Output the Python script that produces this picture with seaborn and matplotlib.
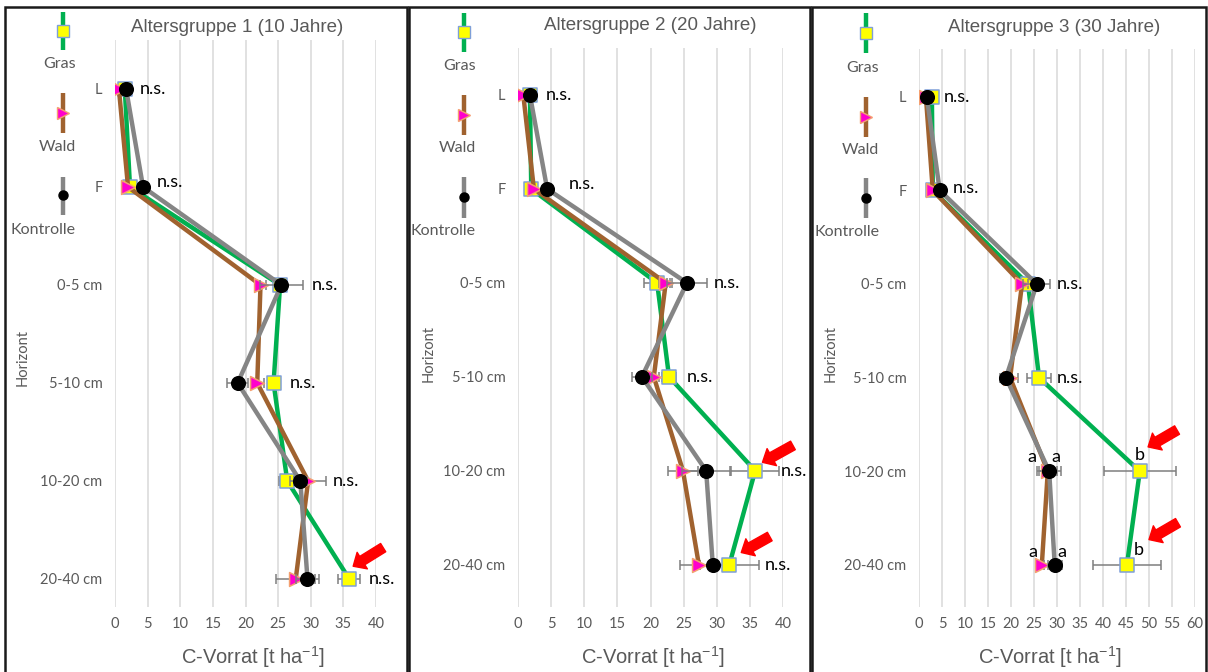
import numpy as np
import pandas as pd
import matplotlib
matplotlib.use("Agg")
import matplotlib.pyplot as plt
import seaborn as sns
from matplotlib.lines import Line2D
from matplotlib.patches import Rectangle

# ---------------- data ----------------
horizons = ["L", "F", "0-5 cm", "5-10 cm", "10-20 cm", "20-40 cm"]
treatments = ["Gras", "Wald", "Kontrolle"]
panel_titles = ["Altersgruppe 1 (10 Jahre)", "Altersgruppe 2 (20 Jahre)", "Altersgruppe 3 (30 Jahre)"]
x_ticks_12 = [0, 5, 10, 15, 20, 25, 30, 35, 40]
x_ticks_3 = [0, 5, 10, 15, 20, 25, 30, 35, 40, 45, 50, 55, 60]

# Altersgruppe 1 (10 Jahre)
gras_10 = [1.5, 2.3, 25.3, 24.3, 26.4, 35.9]
wald_10 = [0.6, 2.0, 22.3, 21.8, 29.6, 27.7]
kontrolle_10 = [1.7, 4.3, 25.5, 18.8, 28.4, 29.5]
gras_10_err = [0, 0, 0.8, 0.8, 1.2, 1.7]
wald_10_err = [0, 0, 0.8, 1.0, 2.8, 3.0]
kontrolle_10_err = [0, 0, 3.3, 1.6, 1.0, 1.8]

# Altersgruppe 2 (20 Jahre)
gras_20 = [1.8, 2.0, 21.0, 22.8, 35.8, 31.9]
wald_20 = [0.8, 2.4, 22.3, 20.5, 24.9, 27.3]
kontrolle_20 = [1.8, 4.4, 25.5, 18.7, 28.4, 29.4]
gras_20_err = [0, 0, 2.0, 1.0, 3.6, 4.5]
wald_20_err = [0, 0, 1.0, 0.8, 2.3, 2.8]
kontrolle_20_err = [0, 0, 3.0, 1.5, 3.6, 0.5]

# Altersgruppe 3 (30 Jahre)
gras_30 = [2.8, 3.0, 23.7, 26.1, 48.0, 45.2]
wald_30 = [1.5, 3.0, 22.4, 19.8, 28.0, 26.7]
kontrolle_30 = [1.7, 4.5, 25.6, 18.9, 28.3, 29.5]
gras_30_err = [0, 0, 0.5, 2.6, 7.8, 7.4]
wald_30_err = [0, 0, 1.3, 1.7, 2.0, 0.5]
kontrolle_30_err = [0, 0, 2.9, 1.2, 2.6, 1.5]

# significance labels: (x, horizon index, dy, text)
labels_10 = [(3.8, 0, 0, "n.s."), (6.4, 1, -0.05, "n.s."), (30.2, 2, 0, "n.s."),
             (26.8, 3, 0, "n.s."), (33.4, 4, 0, "n.s."), (38.9, 5, 0, "n.s.")]
labels_20 = [(4.2, 0, 0, "n.s."), (7.7, 1, -0.05, "n.s."), (29.6, 2, 0, "n.s."),
             (25.4, 3, 0, "n.s."), (39.7, 4, 0, "n.s."), (37.3, 5, 0, "n.s.")]
labels_30 = [(5.4, 0, 0, "n.s."), (7.4, 1, -0.03, "n.s."), (30.0, 2, 0, "n.s."),
             (30.0, 3, 0, "n.s.")]
letters_30 = [(24.6, 4, -0.15, "a"), (29.8, 4, -0.15, "a"), (48.0, 4, -0.17, "b"),
              (24.8, 5, -0.14, "a"), (31.1, 5, -0.14, "a"), (47.8, 5, -0.16, "b")]

# red arrows: (tail_x, tail_y, tip_x, tip_y) in data coordinates
arrows_10 = [(41.1, 4.68, 36.5, 4.87)]
arrows_20 = [(41.5, 3.73, 36.9, 3.91), (38.0, 4.70, 33.7, 4.87)]
arrows_30 = [(56.1, 3.56, 49.8, 3.74), (56.3, 4.55, 50.0, 4.73)]

# ---------------- style ----------------
sns.set_style("white")
plt.rcParams['font.family'] = ['Lato', 'DejaVu Sans']
plt.rcParams['mathtext.default'] = 'regular'

W, H = 1208, 672
fig = plt.figure(figsize=(W / 100, H / 100), dpi=100)
fig.patch.set_facecolor("white")

line_colors = {"Gras": "#00B050", "Wald": "#A0622F", "Kontrolle": "#858585"}
mk = {"Gras": "s", "Wald": ">", "Kontrolle": "o"}
mface = {"Gras": "#FFFF00", "Wald": "#FF00CC", "Kontrolle": "#000000"}
medge = {"Gras": "#7F9FD8", "Wald": "#F4A070", "Kontrolle": "#000000"}
msize = {"Gras": 105, "Wald": 100, "Kontrolle": 95}
GRAY_TXT = "#595959"

panels = [
    dict(vals=[gras_10, wald_10, kontrolle_10], errs=[gras_10_err, wald_10_err, kontrolle_10_err],
         box=(115, 376, 40, 607), ylim=(5.286, -0.5), xlim=(0, 40), ticks=x_ticks_12,
         labels=labels_10, letters=[], arrows=arrows_10,
         title_xy=(237, 27), xlabel_xy=(253, 657), ylabel_xy=(23, 357),
         leg_x=63, leg_lab_x=76, leg_y=[(12, 50, 31, 64), (93, 133, 113, 147), (177, 215, 195, 230)],
         border=(5, 407)),
    dict(vals=[gras_20, wald_20, kontrolle_20], errs=[gras_20_err, wald_20_err, kontrolle_20_err],
         box=(518, 783, 48, 607), ylim=(5.45, -0.5), xlim=(0, 40), ticks=x_ticks_12,
         labels=labels_20, letters=[], arrows=arrows_20,
         title_xy=(650, 25), xlabel_xy=(653, 657), ylabel_xy=(429, 353),
         leg_x=464, leg_lab_x=476, leg_y=[(13, 52, 32, 66), (95, 135, 115, 148), (177, 218, 197, 231)],
         border=(409, 810)),
    dict(vals=[gras_30, wald_30, kontrolle_30], errs=[gras_30_err, wald_30_err, kontrolle_30_err],
         box=(919, 1195, 49, 607), ylim=(5.45, -0.51), xlim=(0, 60), ticks=x_ticks_3,
         labels=labels_30, letters=letters_30, arrows=arrows_30,
         title_xy=(1054, 27), xlabel_xy=(1050, 657), ylabel_xy=(831, 353),
         leg_x=866, leg_lab_x=879, leg_y=[(13, 53, 33, 68), (97, 137, 117, 150), (178, 218, 198, 232)],
         border=(812, 1206)),
]

pos = np.arange(len(horizons))

for p_i, P in enumerate(panels):
    l, r, t, b = P["box"]
    ax = fig.add_axes([l / W, 1 - b / H, (r - l) / W, (b - t) / H])
    ax.set_facecolor("none")

    for s_i, name in enumerate(treatments):
        df = pd.DataFrame({"value": P["vals"][s_i], "pos": pos, "err": P["errs"][s_i]})
        z = 2 + 3 * s_i
        sns.lineplot(data=df, x="value", y="pos", sort=False, estimator=None,
                     color=line_colors[name], lw=3.2, ax=ax, legend=False, zorder=z)
        de = df[df["err"] > 0]
        ax.errorbar(de["value"], de["pos"], xerr=de["err"], fmt="none", ecolor="#7F7F7F",
                    elinewidth=1.1, capsize=3.5, capthick=1.1, zorder=z + 1)
        sns.scatterplot(data=df, x="value", y="pos", marker=mk[name], s=msize[name],
                        color=mface[name], edgecolor=medge[name], linewidth=1.1,
                        ax=ax, legend=False, zorder=z + 2)

    ax.set_xlim(*P["xlim"])
    ax.set_ylim(*P["ylim"])
    ax.set_xticks(P["ticks"])
    ax.set_xticklabels([str(v) for v in P["ticks"]])
    ax.set_yticks(pos)
    ax.set_yticklabels(horizons)
    ax.tick_params(axis="both", length=0, labelcolor=GRAY_TXT, labelsize=10.5)
    ax.tick_params(axis="x", pad=7)
    ax.tick_params(axis="y", pad=9)
    ax.grid(axis="x", color="#D9D9D9", lw=1.1)
    ax.grid(axis="y", visible=False)
    ax.set_axisbelow(True)
    for sp in ax.spines.values():
        sp.set_visible(False)
    ax.set_xlabel("")
    ax.set_ylabel("")

    for (x, hi, dy, txt) in P["labels"] + P["letters"]:
        ha = "left" if txt == "n.s." else "center"
        ax.text(x, hi + dy, txt, ha=ha, va="center", fontsize=13, color="black",
                clip_on=False, zorder=20)

    for (tx, ty, hx, hy) in P["arrows"]:
        ax.annotate("", xy=(hx, hy), xytext=(tx, ty), annotation_clip=False,
                    arrowprops=dict(arrowstyle="simple,head_length=0.55,head_width=1.0,tail_width=0.5",
                                    color="#FF0000", mutation_scale=14, shrinkA=0, shrinkB=0),
                    zorder=20)

    # titles / axis labels
    fig.text(P["title_xy"][0] / W, 1 - P["title_xy"][1] / H, panel_titles[p_i],
             ha="center", va="center", fontsize=13.5, color=GRAY_TXT, family="Liberation Sans")
    fig.text(P["xlabel_xy"][0] / W, 1 - P["xlabel_xy"][1] / H, "C-Vorrat [t ha$^{-1}$]",
             ha="center", va="center", fontsize=14.5, color=GRAY_TXT, family="Liberation Sans")
    fig.text(P["ylabel_xy"][0] / W, 1 - P["ylabel_xy"][1] / H, "Horizont", rotation=90,
             ha="center", va="center", fontsize=10.5, color=GRAY_TXT)

    # custom legend
    for s_i, name in enumerate(treatments):
        y0, y1, ym, yl = P["leg_y"][s_i]
        xx = P["leg_x"] / W
        fig.add_artist(Line2D([xx, xx], [1 - y0 / H, 1 - y1 / H], color=line_colors[name],
                              lw=3.2, solid_capstyle="butt"))
        fig.add_artist(Line2D([xx], [1 - ym / H], marker=mk[name], markersize=8 if name != "Kontrolle" else 6.5,
                              markerfacecolor=mface[name], markeredgecolor=medge[name],
                              markeredgewidth=1, linestyle="none"))
        fig.text(P["leg_lab_x"] / W, 1 - yl / H, name, ha="right", va="center",
                 fontsize=11.5, color=GRAY_TXT)

    # panel border
    bx0, bx1 = P["border"]
    fig.add_artist(Rectangle((bx0 / W, -0.05), (bx1 - bx0) / W, 1.05 - 7 / H,
                             fill=False, edgecolor="#1A1A1A", lw=1.8, transform=fig.transFigure))

fig.savefig("out.png", dpi=100)
